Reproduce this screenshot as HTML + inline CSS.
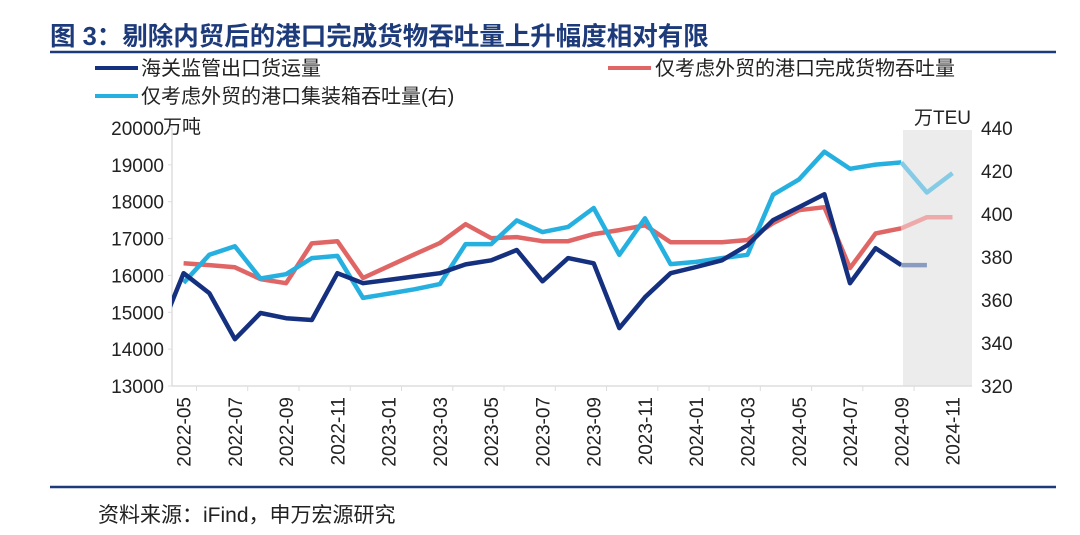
<!DOCTYPE html>
<html><head><meta charset="utf-8"><style>
body{margin:0;background:#fff;width:1080px;height:530px;overflow:hidden;font-family:"Liberation Sans","Noto Sans CJK SC",sans-serif}
</style></head><body>
<svg id="c" width="1080" height="530" xmlns="http://www.w3.org/2000/svg" font-family="Liberation Sans, Noto Sans CJK SC, sans-serif">
<text x="50" y="45" font-size="25.5" font-weight="bold" fill="#1d3a7a">图 3：剔除内贸后的港口完成货物吞吐量上升幅度相对有限</text>
<line x1="50" y1="52" x2="1056" y2="52" stroke="#1d3a7a" stroke-width="2.5"/>
<g font-size="20" fill="#222">
<g><line x1="95" y1="68" x2="138" y2="68" stroke="#14307f" stroke-width="4"/><text x="141" y="75">海关监管出口货运量</text></g>
<g><line x1="608" y1="68" x2="651" y2="68" stroke="#e06666" stroke-width="4"/><text x="655" y="75">仅考虑外贸的港口完成货物吞吐量</text></g>
<g><line x1="95" y1="96" x2="138" y2="96" stroke="#25b0e0" stroke-width="4"/><text x="141" y="103">仅考虑外贸的港口集装箱吞吐量(右)</text></g>
</g>
<text x="163" y="133" font-size="19" fill="#222">万吨</text>
<text x="914" y="124" font-size="19" fill="#222">万TEU</text>
<g id="plot"></g>
<line x1="50" y1="487" x2="1056" y2="487" stroke="#1d3a7a" stroke-width="2.5"/>
<text x="98" y="522" font-size="21" fill="#222">资料来源：iFind，申万宏源研究</text>
</svg>
<script>
const months = ["2022-04","2022-05","2022-06","2022-07","2022-08","2022-09","2022-10","2022-11","2022-12","2023-01","2023-02","2023-03","2023-04","2023-05","2023-06","2023-07","2023-08","2023-09","2023-10","2023-11","2023-12","2024-01","2024-02","2024-03","2024-04","2024-05","2024-06","2024-07","2024-08","2024-09","2024-10","2024-11"];
const customs = [14350,16060,15520,14270,14980,14840,14790,16060,15790,15880,15970,16060,16300,16410,16690,15840,16470,16330,14570,15410,16060,16230,16410,16820,17500,17850,18200,15790,16740,16280,16280,null];
const portCargo = [null,16330,16280,16220,15900,15790,16870,16930,15930,16250,16570,16880,17390,17010,17040,16930,16930,17120,17230,17360,16900,16900,16900,16960,17420,17770,17850,16200,17140,17280,17580,17580];
const container = [null,368,381,385,370,372,379.5,380.5,361,363,365,367.4,386,386,397,391.6,394,402.8,381,398,376.7,377.7,379.5,381,409,416,429,421,423,424,410,419];
const leftTicks = [13000,14000,15000,16000,17000,18000,19000,20000];
const rightTicks = [320,340,360,380,400,420,440];
const actualCount = 30;
const NS="http://www.w3.org/2000/svg";
const plot=document.getElementById('plot');
const X0=172,X1=972,Y0=386,Y1=128;
const x=i=>158+25.63*i;
const yl=v=>Y0-(v-13000)/7000*(Y0-Y1);
const yr=v=>Y0-(v-320)/120*(Y0-Y1);
function mk(t,a){const e=document.createElementNS(NS,t);for(const k in a)e.setAttribute(k,a[k]);plot.appendChild(e);return e;}
const shade=mk('rect',{x:903,y:130,width:69,height:Y0-130,fill:'#ececec'});


const clip=mk('clipPath',{id:'cp'});clip.innerHTML='<rect x="'+X0+'" y="0" width="'+(X1-X0)+'" height="530"/>';
const ax=mk('line',{x1:X0,y1:Y1,x2:X0,y2:Y0,stroke:'#ddd','stroke-width':1.5});


const bx=mk('line',{x1:X0,y1:Y0,x2:X1,y2:Y0,stroke:'#ddd','stroke-width':1.5});


leftTicks.forEach(v=>{const t=mk('text',{x:164,y:yl(v)+7,'text-anchor':'end','font-size':19,fill:'#222'});t.textContent=v;


mk('line',{x1:X0-4,y1:yl(v),x2:X0,y2:yl(v),stroke:'#ddd'});});
rightTicks.forEach(v=>{const t=mk('text',{x:981,y:yr(v)+7,'font-size':19,fill:'#222'});t.textContent=v;

});
months.forEach((m,i)=>{if(i%2===1){const xx=x(i);const t=mk('text',{x:0,y:0,'font-size':19,fill:'#222','text-anchor':'end',transform:'translate('+(xx+7)+',397) rotate(-90)'});t.textContent=m;

}
if(i%2===0&&i>0){mk('line',{x1:x(i)-12.8,y1:Y0,x2:x(i)-12.8,y2:Y0+5,stroke:'#ddd'});}});
function series(arr,yf,color,light,name){
let pa='',pb='';
arr.forEach((v,i)=>{if(v==null)return;const p=x(i).toFixed(1)+','+yf(v).toFixed(1);
if(i<actualCount)pa+=(pa?' L':'M')+p;
if(i>=actualCount-1)pb+=(pb?' L':'M')+p;});
const a=mk('path',{d:pa,fill:'none',stroke:color,'stroke-width':4.5,'stroke-linejoin':'round','clip-path':'url(#cp)'});


if(pb.indexOf('L')>0){const b=mk('path',{d:pb,fill:'none',stroke:light,'stroke-width':4.5,'stroke-linejoin':'round'});

}
}
series(portCargo,yl,'#e06666','#eeaaaa','port-cargo');
series(container,yr,'#25b0e0','#86cbe6','container');
series(customs,yl,'#14307f','#8a9cc0','customs');
</script>
</body></html>
